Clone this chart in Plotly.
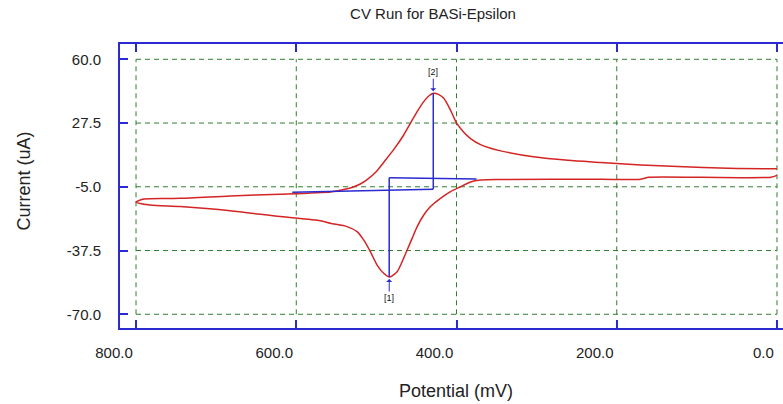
import plotly.graph_objects as go

# ---- data (potential in mV, current in uA) ----
# forward sweep 0 -> 800 mV (lower branch)
fwd_mV = [0, 7.5, 95, 160, 170, 220, 345, 370, 382.5, 395, 407.5, 420, 432.5, 440.9, 449.1,
          455.4, 461.6, 467.9, 474.1, 483.4, 490.9, 499.1, 507.5, 515.9, 524.1, 536.6, 557.5,
          570, 620, 682.5, 745, 782.5, 800]
fwd_uA = [0.8, -0.1, -0.2, -0.2, -1.1, -1.2, -1.3, -1.6, -2.6, -5.0, -7.5, -10.9, -15.1, -19.4,
          -25.3, -31.3, -37.2, -43.2, -48.3, -51.0, -49.1, -44.9, -38.1, -32.1, -27.9, -25.3,
          -23.6, -22.3, -20.2, -17.2, -15.1, -14.3, -12.8]
# reverse sweep 800 -> 0 mV (upper branch)
rev_mV = [800, 790, 745, 682.5, 620, 557.5, 545, 532.5, 520, 511.6, 500, 491, 478, 465.9, 457.5,
          449.1, 440.9, 434.6, 429, 422, 415.9, 407.5, 400, 390.9, 382.5, 370, 357.5, 345, 304,
          261, 220, 170, 124, 61, 0]
rev_uA = [-12.8, -11.2, -10.9, -9.7, -8.8, -7.6, -6.8, -5.6, -3.6, -1.4, 2.8, 7.4, 14.2, 21.4,
          27.4, 33.3, 38.4, 41.3, 42.7, 42.0, 40.1, 34.1, 27.6, 22.8, 19.6, 16.5, 14.6, 13.3,
          10.3, 8.5, 7.4, 6.1, 5.3, 4.4, 4.2]

# peak baselines
base2_mV = [605, 429]
base2_uA = [-7.8, -6.2]
peak2 = (429, 42.7)
base1_mV = [484, 375]
base1_uA = [-0.4, -1.0]
peak1 = (484, -51.0)

x_ticks = [800, 600, 400, 200, 0]
y_ticks = [60, 27.5, -5, -37.5, -70]
NB = "\u00a0"
x_ticktext = ["800.0", "600.0", "400.0", "200.0", NB * 4 + "0.0"]
y_ticktext = ["60.0", "27.5", "-5.0", "-37.5", "-70.0"]

BLUE = "#2a2ad0"
RED = "#d42424"
GREEN = "#2f7f2f"
FONT = "Liberation Sans, Arial, sans-serif"

fig = go.Figure()

# grid lines limited to tick span
for xv in x_ticks:
    fig.add_shape(type="line", x0=xv, x1=xv, y0=min(y_ticks), y1=max(y_ticks),
                  line=dict(color=GREEN, width=1, dash="5px,4px"), layer="below")
for yv in y_ticks:
    fig.add_shape(type="line", x0=max(x_ticks), x1=min(x_ticks), y0=yv, y1=yv,
                  line=dict(color=GREEN, width=1, dash="5px,4px"), layer="below")

fig.add_trace(go.Scatter(x=fwd_mV + rev_mV[1:], y=fwd_uA + rev_uA[1:], mode="lines",
                         line=dict(color=RED, width=1.5, shape="spline", smoothing=0.7),
                         showlegend=False, hoverinfo="skip"))

# baselines and peak verticals
fig.add_trace(go.Scatter(x=base2_mV, y=base2_uA, mode="lines", line=dict(color=BLUE, width=1.5),
                         showlegend=False))
fig.add_trace(go.Scatter(x=[peak2[0], peak2[0]], y=[base2_uA[-1], peak2[1]], mode="lines",
                         line=dict(color=BLUE, width=1.5), showlegend=False))
fig.add_trace(go.Scatter(x=base1_mV, y=base1_uA, mode="lines", line=dict(color=BLUE, width=1.5),
                         showlegend=False))
fig.add_trace(go.Scatter(x=[peak1[0], peak1[0]], y=[base1_uA[0], peak1[1]], mode="lines",
                         line=dict(color=BLUE, width=1.5), showlegend=False))

fig.add_annotation(x=peak2[0], y=peak2[1], text="[2]", showarrow=True, ax=0, ay=-21,
                   arrowhead=1, arrowsize=1, arrowwidth=1, arrowcolor=BLUE, standoff=2,
                   font=dict(family=FONT, size=9, color="#111"))
fig.add_annotation(x=peak1[0], y=peak1[1], text="[1]", showarrow=True, ax=0, ay=21,
                   arrowhead=1, arrowsize=1, arrowwidth=1, arrowcolor=BLUE, standoff=2,
                   font=dict(family=FONT, size=9, color="#111"))

W, H = 783, 404
L, R, T, B = 120, 0, 44, 76
pw, ph = W - L - R, H - T - B

fig.add_annotation(text="Potential (mV)", xref="paper", yref="paper",
                   x=(456 - L) / pw, y=(H - B - 391) / ph, showarrow=False,
                   xanchor="center", yanchor="middle",
                   font=dict(family=FONT, size=18, color="#222"))
fig.add_annotation(text="Current (uA)", xref="paper", yref="paper",
                   x=(23 - L) / pw, y=(H - B - 181.5) / ph, showarrow=False, textangle=-90,
                   xanchor="center", yanchor="middle",
                   font=dict(family=FONT, size=18, color="#222"))

fig.update_layout(
    width=W, height=H,
    margin=dict(l=L, r=R, t=T, b=B, autoexpand=False),
    paper_bgcolor="white", plot_bgcolor="white",
    title=dict(text="CV Run for BASi-Epsilon", x=433 / W, xref="container", xanchor="center",
               y=1 - 14 / H, yanchor="middle", font=dict(family=FONT, size=15, color="#222")),
    font=dict(family=FONT, size=15, color="#222"),
)
fig.update_xaxes(range=[820, -7.5], tickvals=x_ticks, ticktext=x_ticktext, showgrid=False,
                 zeroline=False, ticks="inside", ticklen=8, tickwidth=2, tickcolor=BLUE,
                 showline=True, linecolor=BLUE, linewidth=2, mirror="ticks", automargin=False,
                 ticklabelstandoff=10, ticklabelshift=22, ticklabeloverflow="allow",
                 tickfont=dict(family=FONT, size=15, color="#222"))
fig.update_yaxes(range=[-77.0, 67.8], tickvals=y_ticks, ticktext=y_ticktext, showgrid=False,
                 zeroline=False, ticks="inside", ticklen=8, tickwidth=2, tickcolor=BLUE,
                 showline=True, linecolor=BLUE, linewidth=2, mirror=False, automargin=False,
                 ticklabelstandoff=14, tickfont=dict(family=FONT, size=15, color="#222"))

fig.write_html("out.html")
